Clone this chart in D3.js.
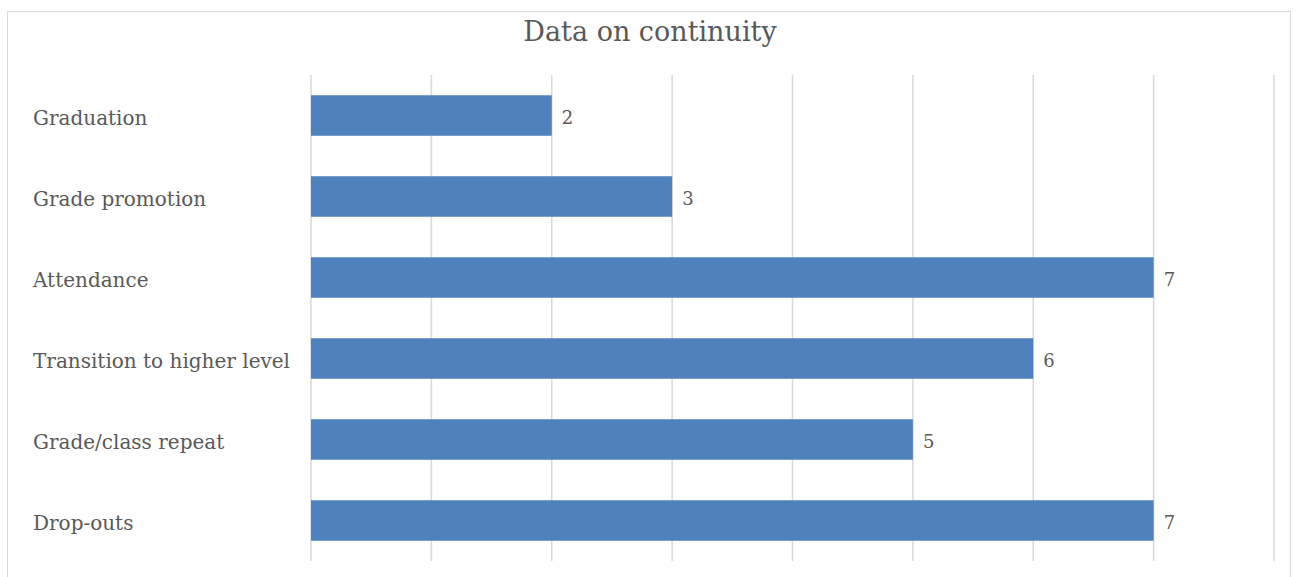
<!DOCTYPE html>
<html>
<head>
<meta charset="utf-8">
<script src="https://cdn.jsdelivr.net/npm/d3@7"></script>
<style>
  body { margin: 0; background: #fff; }
  text { font-family: "DejaVu Serif", "Liberation Serif", serif; fill: #595959; }
</style>
</head>
<body>
<svg class="chart"></svg>
<script>
// data
var categories = ["Graduation", "Grade promotion", "Attendance",
                  "Transition to higher level", "Grade/class repeat", "Drop-outs"];
var values = [2, 3, 7, 6, 5, 7];
var xTicks = [0, 1, 2, 3, 4, 5, 6, 7, 8];

var W = 1296, H = 577;
var margin = {top: 75, right: 22, bottom: 16, left: 311}
    , width = 1274 - margin.left
    , height = 561 - margin.top;

var chart = d3.select('.chart')
    .attr('width', W)
    .attr('height', H);

// outer frame
chart.append('rect')
    .attr('x', 7.5).attr('y', 11.5)
    .attr('width', 1283).attr('height', 580)
    .attr('fill', 'none')
    .attr('stroke', '#d9d9d9');

var main = chart.append('g')
    .attr('transform', 'translate(' + margin.left + ',' + margin.top + ')');

var x = d3.scaleLinear()
    .domain([0, 8])
    .range([0, width]);

var y = d3.scaleBand()
    .domain(categories)
    .range([0, height])
    .paddingInner(0.5)
    .paddingOuter(0.25);

// gridlines
main.append('g')
    .selectAll('line')
    .data(xTicks)
    .enter().append('line')
    .attr('x1', function (d) { return x(d); })
    .attr('x2', function (d) { return x(d); })
    .attr('y1', 0)
    .attr('y2', height)
    .attr('stroke', '#d9d9d9')
    .attr('stroke-width', 1.5);

// bars
main.append('g')
    .selectAll('rect')
    .data(values)
    .enter().append('rect')
    .attr('x', 0)
    .attr('y', function (d, i) { return y(categories[i]); })
    .attr('width', function (d) { return x(d); })
    .attr('height', y.bandwidth())
    .attr('fill', '#4f81bd');

// value labels
main.append('g')
    .selectAll('text')
    .data(values)
    .enter().append('text')
    .attr('x', function (d) { return x(d) + 10; })
    .attr('y', function (d, i) { return y(categories[i]) + y.bandwidth() / 2 + 2; })
    .attr('dy', '0.35em')
    .style('font-size', '18px')
    .text(function (d) { return d; });

// category labels
chart.append('g')
    .selectAll('text')
    .data(categories)
    .enter().append('text')
    .attr('x', 33)
    .attr('y', function (d) { return margin.top + y(d) + y.bandwidth() / 2 + 2; })
    .attr('dy', '0.35em')
    .style('font-size', '20px')
    .text(function (d) { return d; });

// title
chart.append('text')
    .attr('x', 650)
    .attr('y', 41)
    .style('text-anchor', 'middle')
    .style('font-size', '27px')
    .text('Data on continuity');
</script>
</body>
</html>
